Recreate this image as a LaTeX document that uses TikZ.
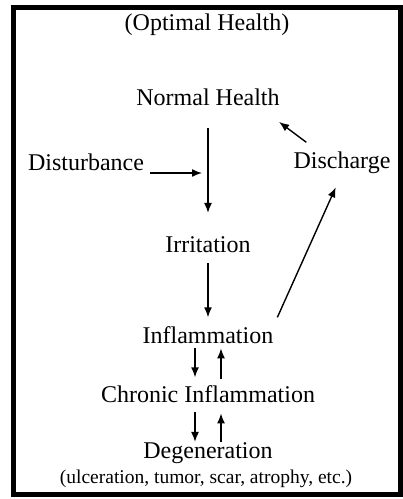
\documentclass[tikz,border=0pt]{standalone}
\usepackage{fontspec}
\setmainfont{Liberation Serif}
\usetikzlibrary{arrows.meta}

\begin{document}
\begin{tikzpicture}[x=1pt,y=-1pt,
  lbl/.style={anchor=base,inner sep=0pt,font=\fontsize{24}{28}\selectfont},
  small/.style={anchor=base,inner sep=0pt,font=\fontsize{19.5}{23}\selectfont},
  arr/.style={-{Latex[length=10pt,width=8pt]},line width=1.4pt}]
\useasboundingbox (0,0) rectangle (403,499);
\draw[line width=5pt] (13.5,7.5) rectangle (400,494);
\node[lbl](opt) at (207,30){(Optimal Health)};
\node[lbl](nh) at (208,105){Normal Health};
\node[lbl](dist) at (86,170){Disturbance};
\node[lbl](dis) at (342,168){Discharge};
\node[lbl](irr) at (208,252){Irritation};
\node[lbl](inf) at (208,343){Inflammation};
\node[lbl](chr) at (208,402){Chronic Inflammation};
\node[lbl](deg) at (208,458){Degeneration};
\node[small](ex) at (206,483){(ulceration, tumor, scar, atrophy, etc.)};
\coordinate(hit) at (202,173);
\draw[arr,shorten <=23pt,shorten >=23pt](nh) -- (irr);
\draw[arr,shorten <=11pt,shorten >=8.6pt](irr) -- (inf);
\draw[arr,shorten <=6pt](dist.east |- hit) -- (hit);
\draw[arr,shorten <=14.8pt,shorten >=27.6pt](dis.155) -- (nh.-10);
\draw[arr,shorten <=9.4pt,shorten >=15.3pt](inf.north east) -- (dis.south);
\draw[arr,shorten <=5pt,shorten >=7.6pt]([xshift=-13pt]inf.south) -- ([xshift=-13pt]chr.north);
\draw[arr,shorten <=5.6pt,shorten >=5pt]([xshift=13pt]chr.north) -- ([xshift=13pt]inf.south);
\draw[arr,shorten <=10pt]([xshift=-13pt]chr.south) -- ([xshift=-13pt]deg.north);
\draw[arr,shorten >=11pt]([xshift=13pt]deg.north) -- ([xshift=13pt]chr.south);
\end{tikzpicture}
\end{document}
